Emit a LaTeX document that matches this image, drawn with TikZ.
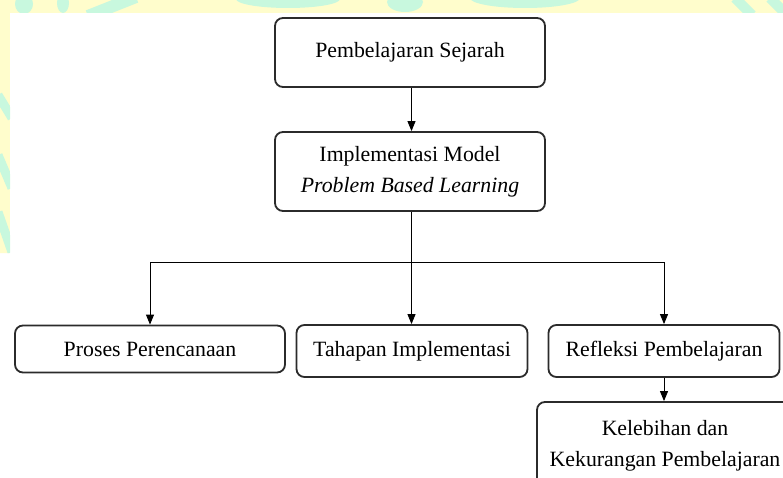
\documentclass[tikz,border=0pt]{standalone}
\usepackage{fontspec}
\setmainfont{Liberation Serif}
\usetikzlibrary{arrows.meta}
\definecolor{wmyellow}{HTML}{FFFDCC}
\definecolor{wmmint}{HTML}{C8F8DE}
\definecolor{boxline}{HTML}{2B2B2B}
\begin{document}
\begin{tikzpicture}[x=1pt,y=-1pt,
  box/.style={draw=boxline, line width=1.8pt, rounded corners=8pt, align=center,
    font=\fontsize{21.8}{31}\selectfont, inner sep=0pt, text=black},
  arr/.style={line width=0.9pt, draw=black, -{Triangle[length=10pt,width=8pt]}},
  conn/.style={line width=0.9pt, draw=black}]
\useasboundingbox (0,0) rectangle (783,478);
\fill[white] (0,0) rectangle (783,478);
% watermark strips
\begin{scope}
  \clip (0,0) rectangle (783,13) (0,0) rectangle (10,253);
  \fill[wmyellow] (0,0) rectangle (783,13) (0,0) rectangle (10,253);
  \fill[wmmint] (24,4) ellipse [x radius=9, y radius=10];
  \fill[wmmint] (63,3) ellipse [x radius=6, y radius=10];
  \draw[wmmint, line width=12pt] (88,16) -- (136,-3);
  \fill[wmmint] (288,-1) ellipse [x radius=52, y radius=9];
  \fill[wmmint] (405,2) ellipse [x radius=18, y radius=10];
  \fill[wmmint] (525,-2) ellipse [x radius=55, y radius=10];
  \draw[wmmint, line width=10pt] (735,-2) -- (752,15);
  \draw[wmmint, line width=10pt] (770,-2) -- (787,15);
  \draw[wmmint, line width=9pt] (-2,95) -- (12,118);
  \draw[wmmint, line width=9pt] (-2,155) -- (12,188);
  \draw[wmmint, line width=9pt] (-2,212) -- (12,252);
\end{scope}
% nodes
\node[box, minimum width=270pt, minimum height=69pt] (sej) at (410,52.5) {Pembelajaran Sejarah};
\node[box, minimum width=270pt, minimum height=79pt] (pbl) at (410,171.5) {Implementasi Model\\\textit{Problem Based Learning}};
\node[box, minimum width=270pt, minimum height=47pt] (pro) at (150,349) {Proses Perencanaan};
\node[box, minimum width=231pt, minimum height=52pt] (tah) at (412,351) {Tahapan Implementasi};
\node[box, minimum width=231pt, minimum height=52pt] (ref) at (664,351) {Refleksi Pembelajaran};
\node[box, minimum width=256pt, minimum height=88pt] (kel) at (665,446) {Kelebihan dan\\Kekurangan Pembelajaran};
\coordinate (j) at (411.5,262);
% connectors
\draw[arr] (sej.south -| j) -- (pbl.north -| j);
\draw[conn] (pbl.south -| j) -- (j);
\draw[arr] (j) -- (tah.north -| j);
\draw[arr] (j) -| (pro.north);
\draw[arr] (j) -| (ref.north);
\draw[arr] (ref.south) -- (kel.north -| ref.south);
\end{tikzpicture}
\end{document}
